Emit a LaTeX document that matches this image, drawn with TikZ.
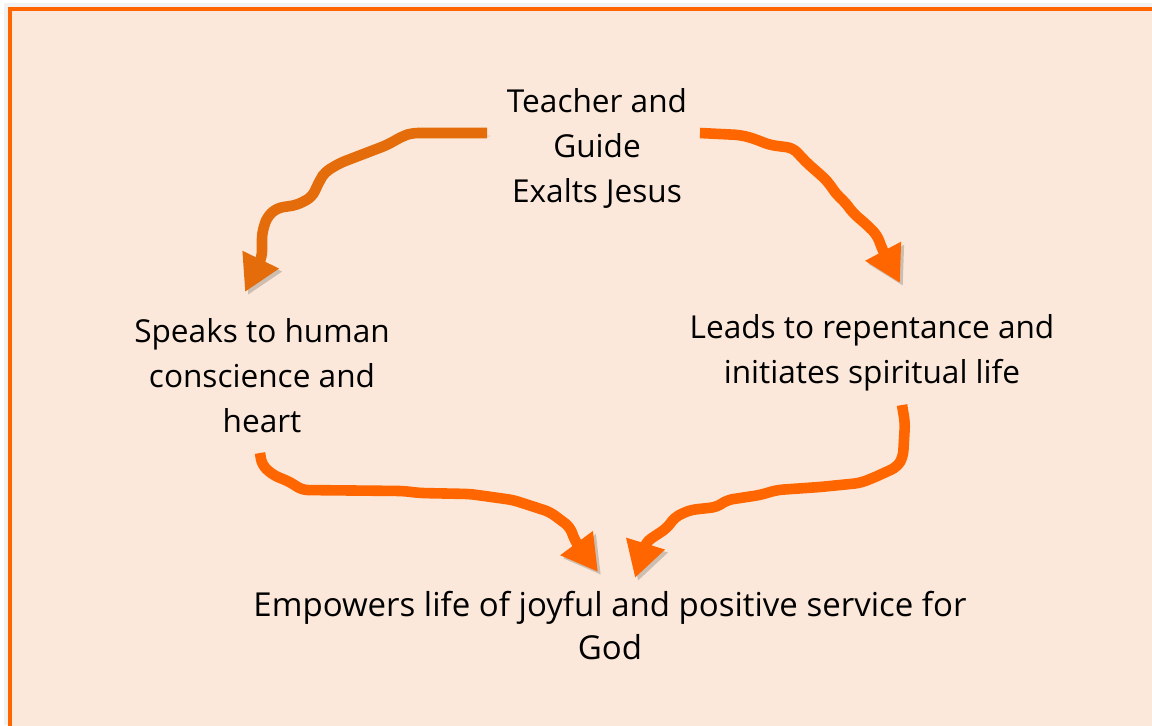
\documentclass[tikz,border=0pt]{standalone}
\usepackage{fontspec}
\setmainfont{Open Sans}
\usetikzlibrary{arrows.meta}
\usetikzlibrary{positioning}
\usetikzlibrary{calc}
\definecolor{bgpeach}{HTML}{FBE8DA}
\definecolor{frameor}{HTML}{FF6600}
\definecolor{darkarr}{HTML}{E46C0A}
\definecolor{brightarr}{HTML}{FF6600}

\begin{document}
\begin{tikzpicture}[
  x=0.5pt,y=-0.5pt,
  txt/.style={
    align=center,
    inner sep=0pt,
    font=\fontsize{15.8pt}{22.5pt}\selectfont},
  flow/.style={
    -{Triangle[length=18pt,width=19pt]},
    line width=5.3pt,
    rounded corners=3pt,
    draw=#1,
    preaction={draw=black,opacity=0.18,
      transform canvas={shift={(1.5pt,-1.5pt)}}}},
]

  \useasboundingbox (0,0) rectangle (1152,725);

  % Frame
  \fill[white] (0,0) rectangle (1152,725);
  \fill[black!5] (4,3) rectangle (1152,725);
  \fill[bgpeach] (10,9) rectangle (1160,735);
  \draw[frameor,line width=2pt] (10,740) -- (10,9) -- (1160,9);

  % Texts
  \node[txt] (guide) at (597,148) {Teacher and\\Guide\\Exalts Jesus};
  \node[txt] (speaks) at (262,376) {Speaks to human\\conscience and\\heart};
  \node[txt] (leads) at (872,353) {Leads to repentance and\\initiates spiritual life};
  \node[txt,font=\fontsize{16.5pt}{21.5pt}\selectfont] (empowers) at (610,626)
    {Empowers life of joyful and positive service for\\God};

  % Hand drawn arrows
  \draw[flow=darkarr] ($(guide)+(-110,-15)$) -- (412,133) -- (403,136)
    -- (387,145) -- (340,163) -- (325,172) -- (320,180) -- (312,197)
    -- (297,205) -- (277,208) -- (267,217) -- (262,233) -- (262,257)
    -- ($(speaks)+(-17,-84)$);

  \draw[flow=brightarr] ($(guide)+(103,-15)$) -- (740,135) -- (752,138)
    -- (770,145) -- (793,148) -- (807,163) -- (823,177) -- (828,182)
    -- (837,195) -- (845,202) -- (853,213) -- (867,225) -- (877,235)
    -- (883,251) -- ($(leads)+(28,-70)$);

  \draw[flow=brightarr] ($(speaks)+(-2,77)$) -- (262,465) -- (273,475)
    -- (290,482) -- (302,490) -- (403,491) -- (420,493) -- (470,494)
    -- (513,500) -- (550,512) -- (570,527) -- (575,541)
    -- ($(empowers)+(-12,-54)$);

  \draw[flow=brightarr] ($(leads)+(30,52)$) -- (905,423) -- (903,457)
    -- (897,467) -- (873,478) -- (860,483) -- (820,487) -- (777,490)
    -- (760,495) -- (727,500) -- (717,507) -- (690,510) -- (675,517)
    -- (667,528) -- (646,542) -- ($(empowers)+(25,-48)$);

\end{tikzpicture}
\end{document}
